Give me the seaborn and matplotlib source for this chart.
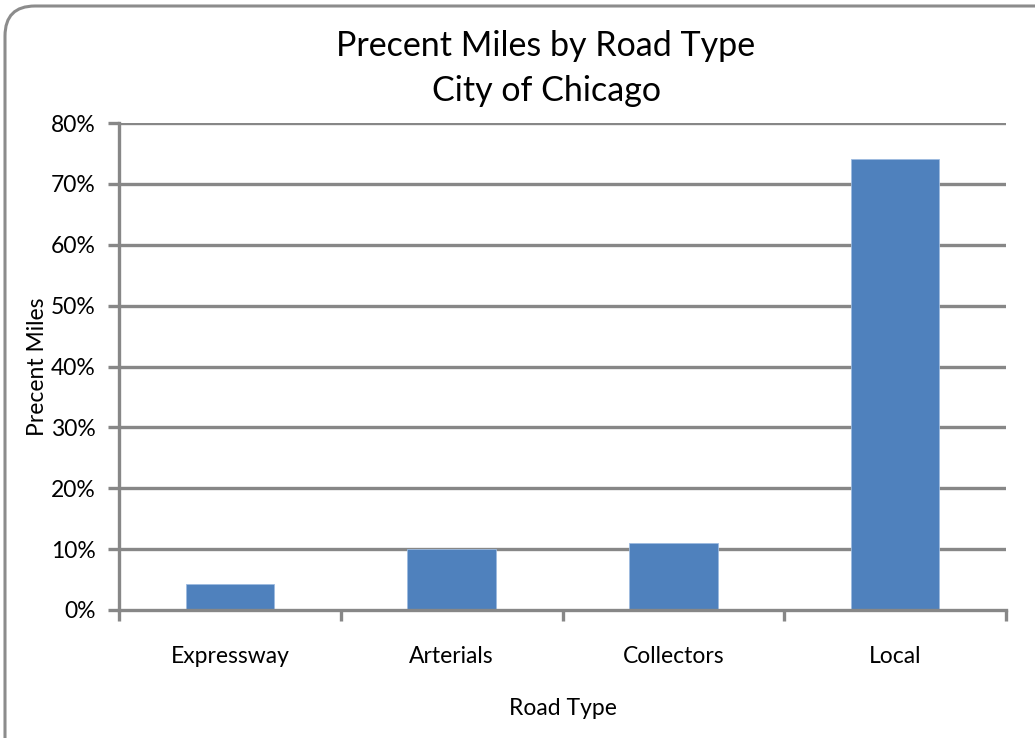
import matplotlib
matplotlib.use("Agg")
import matplotlib.pyplot as plt
from matplotlib.patches import FancyBboxPatch
from matplotlib.transforms import IdentityTransform
from matplotlib.ticker import FixedLocator, PercentFormatter
import seaborn as sns
import pandas as pd

road_types = ["Expressway", "Arterials", "Collectors", "Local"]
percent_miles = [0.043, 0.100, 0.110, 0.741]
y_ticks = [0.0, 0.1, 0.2, 0.3, 0.4, 0.5, 0.6, 0.7, 0.8]

sns.set_theme(style="white")
plt.rcParams["font.family"] = ["Lato", "DejaVu Sans"]

df = pd.DataFrame({"Road Type": road_types, "Precent Miles": percent_miles})

W, H = 1035, 738
fig = plt.figure(figsize=(W / 100, H / 100), dpi=100)
ax = fig.add_axes([119 / W, 1 - 610 / H, (1006 - 119) / W, (610 - 123) / H])

grid_col = "#878787"
sns.barplot(data=df, x="Road Type", y="Precent Miles", color="#4F81BD",
            width=0.4, saturation=1, ax=ax, zorder=3,
            edgecolor="#9dbbe0", linewidth=0.6)

ax.set_xlim(-0.5, len(road_types) - 0.5)
ax.set_ylim(0, 0.8)
ax.yaxis.set_major_locator(FixedLocator(y_ticks))
ax.yaxis.set_major_formatter(PercentFormatter(1.0, decimals=0))
for y in y_ticks[1:]:
    ax.axhline(y, color=grid_col, lw=2.4, zorder=1)

# category boundary tick marks on the x axis
ax.xaxis.set_minor_locator(FixedLocator([i - 0.5 for i in range(len(road_types) + 1)]))
ax.tick_params(axis="x", which="major", length=0, pad=26, labelsize=16.5, labelcolor="black")
ax.tick_params(axis="x", which="minor", length=8, width=2.4, color=grid_col, direction="out", bottom=True)
ax.tick_params(axis="y", which="major", length=8, width=2.4, color=grid_col, direction="out",
               left=True, pad=9, labelsize=16.5, labelcolor="black")

for side in ["top", "right"]:
    ax.spines[side].set_visible(False)
for side in ["left", "bottom"]:
    ax.spines[side].set_color(grid_col)
    ax.spines[side].set_linewidth(2.4)
    ax.spines[side].set_zorder(4)

ax.set_xlabel("Road Type", fontsize=16.5, labelpad=22, color="black")
ax.set_ylabel("Precent Miles", fontsize=16.5, labelpad=2, color="black")

fig.text(546 / W, 1 - 46 / H, "Precent Miles by Road Type", ha="center", va="center",
         fontsize=24.5, color="black")
fig.text(546 / W, 1 - 91 / H, "City of Chicago", ha="center", va="center",
         fontsize=24.5, color="black")

# rounded chart frame
frame = FancyBboxPatch((5 + 30, -40 + 30), W + 40 - 60, (H - 6) + 40 - 60,
                       boxstyle="round,pad=30", transform=IdentityTransform(),
                       facecolor="none", edgecolor="#8c8c8c", linewidth=2.2)
fig.patches.append(frame)

fig.savefig("out.png", dpi=100)
